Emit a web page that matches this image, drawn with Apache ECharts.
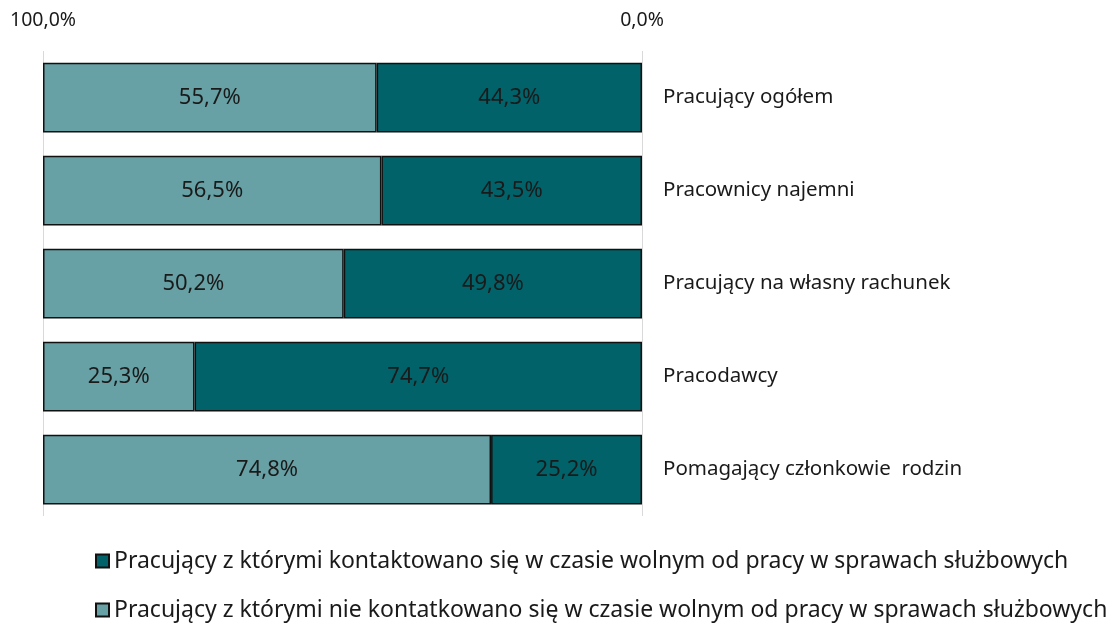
<!DOCTYPE html>
<html>
<head>
<meta charset="utf-8">
<script src="https://cdn.jsdelivr.net/npm/echarts@6/dist/echarts.min.js"></script>
<style>
  html, body { margin: 0; padding: 0; background: #fff; }
  #chart { width: 1119px; height: 628px; }
</style>
</head>
<body>
<div id="chart"></div>
<script>
const categories = [
  'Pracujący ogółem',
  'Pracownicy najemni',
  'Pracujący na własny rachunek',
  'Pracodawcy',
  'Pomagający członkowie  rodzin'
];
const contacted = [44.3, 43.5, 49.8, 74.7, 25.2];
const notContacted = [55.7, 56.5, 50.2, 25.3, 74.8];
const seriesNames = [
  'Pracujący z którymi kontaktowano się w czasie wolnym od pracy w sprawach służbowych',
  'Pracujący z którymi nie kontatkowano się w czasie wolnym od pracy w sprawach służbowych'
];

const fmt = v => v.toFixed(1).replace('.', ',') + '%';
const font = '"Noto Sans", sans-serif';

// one legend per row so they stack like the original
const legendRow = (name, top) => ({
  left: 90,
  top: top,
  itemWidth: 13,
  itemHeight: 13,
  itemGap: 5,
  icon: 'rect',
  textStyle: { fontSize: 23, lineHeight: 24, color: '#1a1a1a', fontFamily: font },
  data: [name]
});

const chart = echarts.init(document.getElementById('chart'));
chart.setOption({
  animation: false,
  textStyle: { fontFamily: font },
  grid: { left: 43, right: 477, top: 51, bottom: 112 },
  legend: [legendRow(seriesNames[0], 544), legendRow(seriesNames[1], 593)],
  xAxis: {
    type: 'value',
    position: 'top',
    inverse: true,
    min: 0,
    max: 100,
    interval: 100,
    axisLine: { show: false },
    axisTick: { show: false },
    splitLine: { show: true, lineStyle: { color: '#d9d9d9', width: 1 } },
    axisLabel: {
      margin: 21,
      fontSize: 19.5,
      color: '#1a1a1a',
      formatter: v => fmt(v)
    }
  },
  yAxis: {
    type: 'category',
    position: 'right',
    inverse: true,
    data: categories,
    axisLine: { show: false },
    axisTick: { show: false },
    axisLabel: { margin: 21, fontSize: 20.5, color: '#1a1a1a' }
  },
  series: [
    {
      name: seriesNames[0],
      type: 'bar',
      stack: 'total',
      barCategoryGap: '25%',
      data: contacted,
      itemStyle: { color: '#01626a', borderColor: '#111', borderWidth: 1.5 },
      label: { show: true, position: 'inside', fontSize: 22, color: '#1a1a1a', formatter: p => fmt(p.value) }
    },
    {
      name: seriesNames[1],
      type: 'bar',
      stack: 'total',
      barCategoryGap: '25%',
      data: notContacted,
      itemStyle: { color: '#67a1a5', borderColor: '#111', borderWidth: 1.5 },
      label: { show: true, position: 'inside', fontSize: 22, color: '#1a1a1a', formatter: p => fmt(p.value) }
    }
  ]
});
</script>
</body>
</html>
